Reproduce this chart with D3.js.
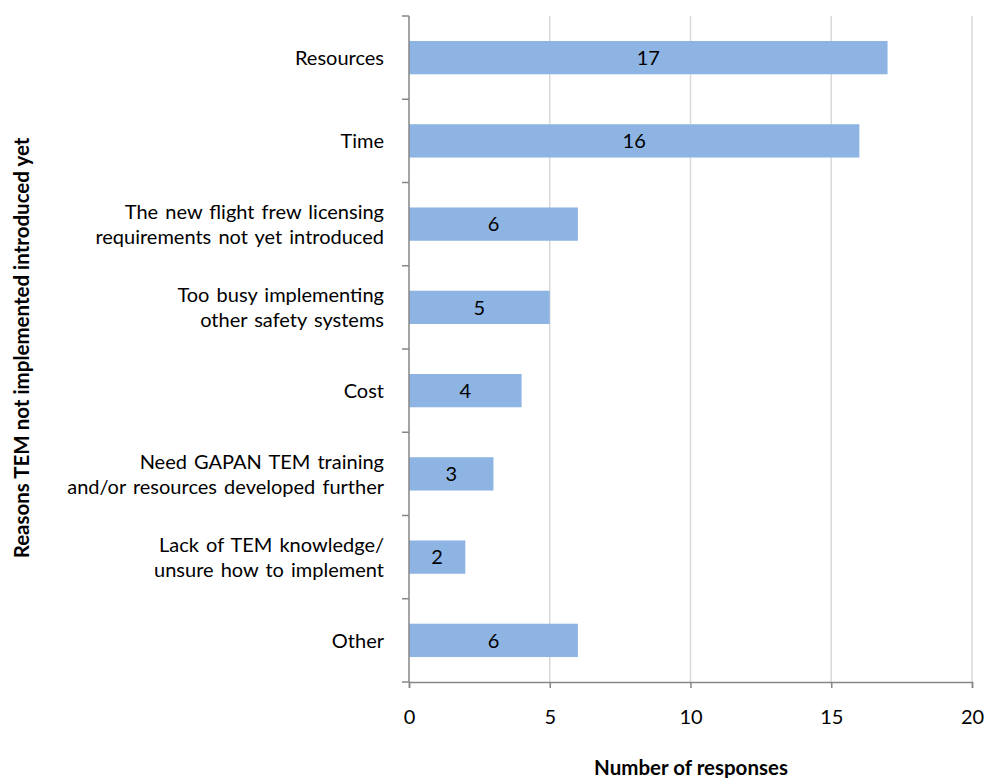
<!DOCTYPE html>
<html>
<head>
<meta charset="utf-8">
<script src="https://cdn.jsdelivr.net/npm/d3@7"></script>
<style>
  body { margin: 0; background: #fff; }
  svg text { font-family: Lato, "Open Sans", sans-serif; fill: #000; }
</style>
</head>
<body>
<svg id="svg" width="986" height="778"></svg>
<script>
// categories top to bottom, each label split into lines
var categories = [
  ["Resources"],
  ["Time"],
  ["The new flight frew licensing", "requirements not yet introduced"],
  ["Too busy implementing", "other safety systems"],
  ["Cost"],
  ["Need GAPAN TEM training", "and/or resources developed further"],
  ["Lack of TEM knowledge/", "unsure how to implement"],
  ["Other"]
];
var responses = [17, 16, 6, 5, 4, 3, 2, 6];
var xTicks = [0, 5, 10, 15, 20];

var plotLeft = 409, plotRight = 972, plotTop = 16, plotBottom = 682;
var svg = d3.select("#svg");

var x = d3.scaleLinear().domain([0, 20]).range([plotLeft, plotRight]);
var y = d3.scaleBand().domain(d3.range(categories.length)).range([plotTop, plotBottom]).paddingInner(0.6).paddingOuter(0.3);
var band = d3.scaleBand().domain(d3.range(categories.length)).range([plotTop, plotBottom]);

//////// GRIDLINES //////////
svg.selectAll("line.grid").data(xTicks.slice(1)).enter()
  .append("line")
  .attr("x1", function(d) { return x(d); })
  .attr("x2", function(d) { return x(d); })
  .attr("y1", plotTop)
  .attr("y2", plotBottom)
  .attr("stroke", "#d9d9d9")
  .attr("stroke-width", 1.5);

//////// BARS //////////
svg.selectAll("rect.bar").data(responses).enter()
  .append("rect")
  .attr("x", x(0))
  .attr("y", function(d, i) { return y(i); })
  .attr("width", function(d) { return x(d) - x(0); })
  .attr("height", y.bandwidth())
  .attr("fill", "#8eb4e3");

svg.selectAll("text.val").data(responses).enter()
  .append("text")
  .attr("x", function(d) { return (x(d) + x(0)) / 2; })
  .attr("y", function(d, i) { return y(i) + y.bandwidth() / 2; })
  .attr("dy", "0.36em")
  .attr("text-anchor", "middle")
  .style("font-size", "20px")
  .text(function(d) { return d; });

//////// AXES //////////
var yAxis = svg.append("g");
yAxis.append("line")
  .attr("x1", plotLeft).attr("x2", plotLeft)
  .attr("y1", plotTop).attr("y2", plotBottom)
  .attr("stroke", "#868686").attr("stroke-width", 1.5);
yAxis.selectAll("line.tick").data(d3.range(categories.length + 1)).enter()
  .append("line")
  .attr("x1", plotLeft - 7).attr("x2", plotLeft)
  .attr("y1", function(i) { return plotTop + i * band.step(); })
  .attr("y2", function(i) { return plotTop + i * band.step(); })
  .attr("stroke", "#868686").attr("stroke-width", 1.5);

var xAxis = svg.append("g").attr("transform", "translate(0," + plotBottom + ")")
  .call(d3.axisBottom(x).tickValues(xTicks).tickSize(6).tickPadding(22));
xAxis.select(".domain").attr("stroke", "#868686").attr("stroke-width", 1.5);
xAxis.selectAll(".tick line").attr("stroke", "#868686").attr("stroke-width", 1.5);
xAxis.selectAll(".tick text").style("font-size", "20px").style("font-family", "Lato, 'Open Sans', sans-serif").attr("fill", "#000");

//////// CATEGORY LABELS //////////
var labels = svg.selectAll("text.cat").data(categories).enter()
  .append("text")
  .attr("text-anchor", "end")
  .style("font-size", "20px")
  .style("word-spacing", "2px")
  .attr("transform", function(d, i) {
    return "translate(384," + (y(i) + y.bandwidth() / 2) + ")";
  });
labels.selectAll("tspan").data(function(d) { return d; }).enter()
  .append("tspan")
  .attr("x", 0)
  .attr("y", function(t, j, nodes) {
    var n = nodes.length;
    return (j - (n - 1) / 2) * 25;
  })
  .attr("dy", "0.36em")
  .text(function(t) { return t; });

//////// AXIS TITLES //////////
svg.append("text")
  .attr("x", 691).attr("y", 768)
  .attr("dy", "0.36em")
  .attr("text-anchor", "middle")
  .style("font-size", "20.5px").style("font-weight", "bold")
  .text("Number of responses");

svg.append("text")
  .attr("transform", "translate(22,348)rotate(-90)")
  .attr("dy", "0.36em")
  .attr("text-anchor", "middle")
  .style("font-size", "20.5px").style("font-weight", "bold")
  .text("Reasons TEM not implemented introduced yet");
</script>
</body>
</html>
